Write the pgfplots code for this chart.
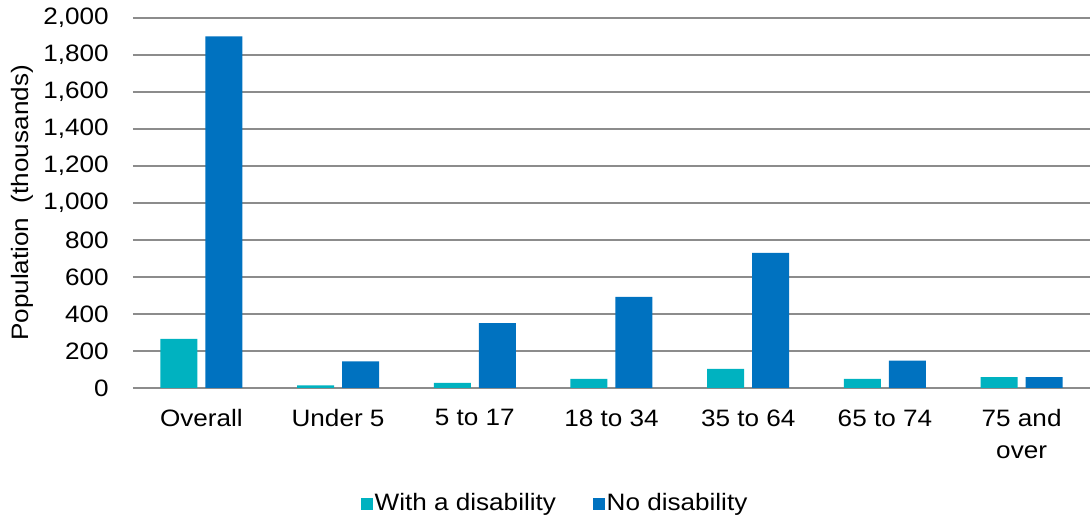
\documentclass[border=0pt]{standalone}
\usepackage{fontspec}
\setmainfont{Liberation Sans}[FakeStretch=1.1]
\usepackage{pgfplots}
\pgfplotsset{compat=1.18}
\definecolor{withdis}{RGB}{0,178,192}
\definecolor{nodis}{RGB}{0,114,192}
\definecolor{gridgray}{RGB}{140,140,140}

\pgfplotstableread{
x with no
0 265 1900
1 14 144
2 27 351
3 49 492
4 103 730
5 49 148
6 59 59
}\popdata

\begin{document}
\begin{tikzpicture}[font=\fontsize{17.8pt}{24pt}\selectfont]
\begin{axis}[
  at={(0,0)}, anchor=south west,
  scale only axis, width=717.75pt, height=277.5pt,
  ybar=6pt, bar width=27.75pt,
  ymin=0, ymax=2000, xmin=-0.5, xmax=6.5,
  xtick={0,...,6},
  xticklabels={Overall,Under 5,5 to 17,18 to 34,35 to 64,65 to 74,{75 and\\over}},
  xticklabel style={align=center, anchor=north, inner sep=0pt, yshift=-16pt},
  ytick={0,200,...,2000},
  yticklabel style={anchor=east, inner sep=0pt, xshift=-18pt},
  /pgf/number format/1000 sep={,},
  /pgf/number format/assume math mode=true,
  ymajorgrids, grid style={gridgray, line width=1pt},
  axis line style={draw=none}, major tick length=0pt,
  ylabel={Population\ \ (thousands)},
  ylabel style={at={(axis description cs:-0.116,0.5)}, anchor=center},
  sq legend/.style={legend image code/.code={\fill[##1] (0pt,-5pt) rectangle (9pt,4pt);}},
  legend columns=2,
  legend style={at={(axis description cs:0.441,-0.311)}, anchor=center,
    draw=none, fill=none, inner sep=0pt,
    /tikz/every even column/.append style={column sep=26pt},
    nodes={inner sep=1.5pt}},
]
\addplot[fill=withdis, draw=none, sq legend] table[x=x, y=with] {\popdata};
\addplot[fill=nodis, draw=none, sq legend] table[x=x, y=no] {\popdata};
\legend{With a disability, No disability}
\end{axis}
\pgfresetboundingbox
\path[use as bounding box] (-99.75pt,-101.25pt) rectangle (717.75pt,291pt);
\end{tikzpicture}
\end{document}
